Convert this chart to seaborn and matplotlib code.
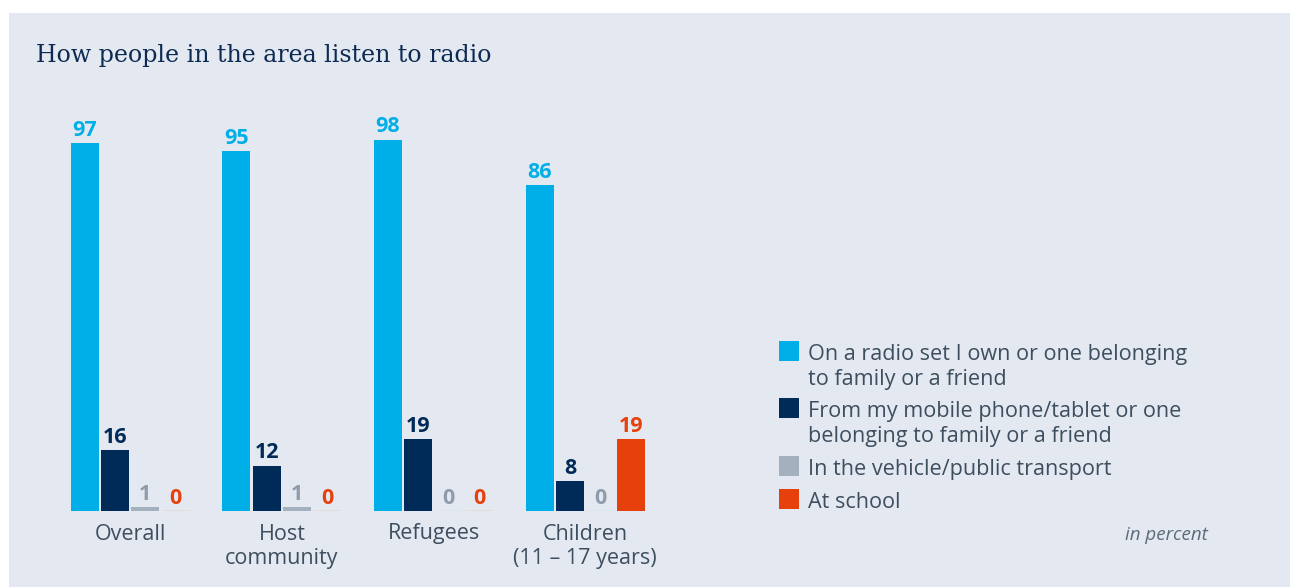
import matplotlib
matplotlib.use("Agg")
import matplotlib.pyplot as plt
from matplotlib.patches import Rectangle
import pandas as pd
import seaborn as sns

# Survey data (percent)
groups = ["Overall", "Host\ncommunity", "Refugees", "Children\n(11 – 17 years)"]
methods = [
    "On a radio set I own or one belonging\nto family or a friend",
    "From my mobile phone/tablet or one\nbelonging to family or a friend",
    "In the vehicle/public transport",
    "At school",
]
radio_set = [97, 95, 98, 86]
mobile = [16, 12, 19, 8]
vehicle = [1, 1, 0, 0]
school = [0, 0, 0, 19]

bar_colors = ["#00aee8", "#002a57", "#a3b0bd", "#e6400d"]
label_colors = ["#00aee8", "#002a57", "#8e9cab", "#e6400d"]
zero_colors = ["#9fdcf4", "#8a9ab0", "#c9d1da", "#f2ab92"]
bg = "#e4e9f1"
text_color = "#3d4e5e"

records = []
for method, vals in zip(methods, [radio_set, mobile, vehicle, school]):
    for g, v in zip(groups, vals):
        records.append({"group": g, "method": method, "value": v})
df = pd.DataFrame(records)

W, H = 1290, 587
fig = plt.figure(figsize=(W / 100, H / 100), dpi=100, facecolor="white")


def fx(x):
    return x / W


def fy(y):
    return 1 - y / H


# Panel background
fig.patches.append(Rectangle((fx(9), 0), 1 - fx(9), fy(13), transform=fig.transFigure,
                             facecolor=bg, edgecolor="none", zorder=-5))

ax = fig.add_axes([fx(62), fy(511), fx(661) - fx(62), fy(132) - fy(511)])
ax.set_facecolor("none")
ax.set_zorder(1)

sns.barplot(data=df, x="group", y="value", hue="method", hue_order=methods,
            order=groups, palette=bar_colors, width=0.8, gap=0.08,
            errorbar=None, legend=False, ax=ax, linewidth=0, saturation=1)

for i, container in enumerate(ax.containers):
    for patch in container.patches:
        if patch.get_height() == 0:
            patch.set_edgecolor(zero_colors[i])
            patch.set_linewidth(1.0)
    ax.bar_label(container, fmt="%d", padding=1.5, color=label_colors[i],
                 fontsize=15.5, fontweight="bold", family="Open Sans")

ax.set_xlim(-0.45, 3.5)
ax.set_ylim(0, 100)
ax.set_xlabel("")
ax.set_ylabel("")
ax.set_yticks([])
ax.tick_params(axis="x", length=0, pad=9, labelsize=15.5, labelcolor=text_color)
for lbl in ax.get_xticklabels():
    lbl.set_family("Open Sans")
    lbl.set_linespacing(1.24)
for s in ax.spines.values():
    s.set_visible(False)

# Title
fig.text(fx(36), fy(62), "How people in the area listen to radio", family="DejaVu Serif",
         fontsize=17.1, color="#0c2a52", ha="left", va="baseline")

# Legend
entries = [
    (341, ["On a radio set I own or one belonging", "to family or a friend"]),
    (398, ["From my mobile phone/tablet or one", "belonging to family or a friend"]),
    (456, ["In the vehicle/public transport"]),
    (489, ["At school"]),
]
for (top, lines), color in zip(entries, bar_colors):
    fig.patches.append(Rectangle((fx(779), fy(top + 20)), fx(20), fy(top) - fy(top + 20),
                                 transform=fig.transFigure, facecolor=color,
                                 edgecolor="none", zorder=2))
    for k, line in enumerate(lines):
        fig.text(fx(808), fy(top + 19 + 25 * k), line, family="Open Sans", fontsize=15.6,
                 color=text_color, ha="left", va="baseline")

fig.text(fx(1208), fy(540), "in percent", family="Open Sans", style="italic",
         fontsize=13.5, color="#5b6b7a", ha="right", va="baseline")

fig.savefig("out.png", dpi=100, facecolor="white")
